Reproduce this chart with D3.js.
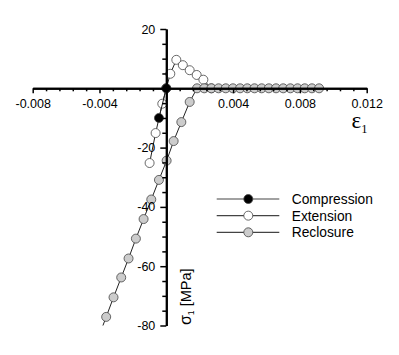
<!DOCTYPE html>
<html lang="en">
<head>
  <meta charset="UTF-8">
  <title>Stress strain loop</title>
  <script src="https://d3js.org/d3.v7.min.js"></script>
  <style>
    body { margin: 0; background: #fff; }
    text { font-family: "Liberation Sans", Arial, sans-serif; fill: #000; }
    .tick text { font-size: 12.5px; }
  </style>
</head>
<body>
  <div id="chart"></div>

  <script>
    // series values (strain, stress in MPa)
    const compressionStrain = [0, -0.00044];
    const compressionStress = [0, -10.0];

    const extensionStrain = [-0.00100, -0.00064, -0.00024, 0, 0.00024, 0.00060, 0.00099, 0.00140, 0.00182, 0.00222, 0.00270];
    const extensionStress = [-25.2, -15.1, -5.2, 0, 4.9, 9.6, 7.8, 6.1, 4.5, 2.9, 0];

    const reclosureStrain = [-0.00404, -0.00360, -0.00316, -0.00270, -0.00226, -0.00182, -0.00136, -0.00090, -0.00044, 0.00002,
      0.00044, 0.00090, 0.00140, 0.00184, 0.00227, 0.00270, 0.00313, 0.00356, 0.00399, 0.00442, 0.00485, 0.00528,
      0.00571, 0.00614, 0.00657, 0.00700, 0.00743, 0.00786, 0.00829, 0.00872, 0.00915];
    const reclosureStress = [-83.7, -77.1, -70.5, -63.8, -57.4, -50.7, -44.1, -37.5, -30.9, -24.4,
      -17.8, -11.4, -4.6, 0, 0, 0, 0, 0, 0, 0, 0, 0,
      0, 0, 0, 0, 0, 0, 0, 0, 0];

    const xTicks = [-0.008, -0.004, 0, 0.004, 0.008, 0.012];
    const yTicks = [20, 0, -20, -40, -60, -80];

    const seriesNames = ["Compression", "Extension", "Reclosure"];
    const seriesFill = ["#000000", "#ffffff", "#cccccc"];

    const margin = { top: 29, left: 32.7 };
    const width = 334;
    const height = 296.5;

    const svg = d3.select("#chart").append("svg")
      .attr("width", 399)
      .attr("height", 355);

    const x = d3.scaleLinear().domain([-0.008, 0.012]).range([margin.left, margin.left + width]);
    const y = d3.scaleLinear().domain([-80, 20]).range([margin.top + height, margin.top]);

    svg.append("clipPath").attr("id", "plot-clip")
      .append("rect")
      .attr("x", margin.left).attr("y", margin.top)
      .attr("width", width).attr("height", height);

    const zip = (xs, ys) => xs.map((v, i) => [v, ys[i]]);
    const series = [
      zip(compressionStrain, compressionStress),
      zip(extensionStrain, extensionStress),
      zip(reclosureStrain, reclosureStress)
    ];

    const line = d3.line().x(d => x(d[0])).y(d => y(d[1]));
    const plot = svg.append("g").attr("clip-path", "url(#plot-clip)");

    // draw order: extension, reclosure, compression on top
    [1, 2, 0].forEach(k => {
      const g = plot.append("g");
      g.append("path")
        .datum(series[k])
        .attr("d", line)
        .attr("fill", "none")
        .attr("stroke", "#222")
        .attr("stroke-width", 1);
      g.selectAll("circle")
        .data(series[k])
        .enter().append("circle")
        .attr("cx", d => x(d[0]))
        .attr("cy", d => y(d[1]))
        .attr("r", 4.5)
        .attr("fill", seriesFill[k])
        .attr("stroke", "#444")
        .attr("stroke-width", 0.8);
    });

    // x axis through zero stress
    const xAxisG = svg.append("g").attr("transform", `translate(0,${y(0)})`);
    const xMinor = d3.range(-0.008, 0.0121, 0.0008).filter(v => !xTicks.some(t => Math.abs(t - v) < 1e-6));
    xAxisG.call(d3.axisBottom(x).tickValues(xMinor).tickSize(3).tickSizeOuter(0).tickFormat(""));
    xAxisG.append("g").call(d3.axisBottom(x)
      .tickValues(xTicks)
      .tickSize(5)
      .tickSizeOuter(0)
      .tickPadding(5.5)
      .tickFormat(d => d === 0 ? "" : d.toFixed(3)));

    // y axis through zero strain
    const yAxisG = svg.append("g").attr("transform", `translate(${x(0)},0)`);
    const yMinor = d3.range(-80, 21, 5).filter(v => v % 20 !== 0);
    yAxisG.call(d3.axisLeft(y).tickValues(yMinor).tickSize(4).tickSizeOuter(0).tickFormat(""));
    yAxisG.append("g").call(d3.axisLeft(y)
      .tickValues(yTicks)
      .tickSize(6)
      .tickSizeOuter(0)
      .tickPadding(5)
      .tickFormat(d => d === 0 ? "" : d));

    svg.selectAll(".domain").attr("stroke", "#000").attr("stroke-width", 2);
    svg.selectAll(".tick line").attr("stroke", "#000").attr("stroke-width", 1.5);
    svg.selectAll(".tick text").attr("fill", "#000");

    // axis titles
    const xTitle = svg.append("text")
      .attr("x", 351.5)
      .attr("y", 128.3)
      .style("font-family", "'Liberation Serif', 'Times New Roman', serif")
      .style("font-size", "23px");
    xTitle.append("tspan").text("ε");
    xTitle.append("tspan").attr("dy", 5).style("font-size", "12.5px").text("1");

    const yTitle = svg.append("text")
      .attr("transform", `translate(191,325) rotate(-90)`)
      .style("font-size", "14.5px");
    yTitle.append("tspan").style("font-size", "16px").text("σ");
    yTitle.append("tspan").attr("dy", 3).style("font-size", "8.5px").text("1");
    yTitle.append("tspan").attr("dy", -3).text(" [MPa]");

    // legend
    const legend = svg.append("g")
      .selectAll("g")
      .data(seriesNames)
      .enter().append("g")
      .attr("transform", (d, i) => `translate(0,${199 + i * 16.65})`);

    legend.append("line")
      .attr("x1", 216.7).attr("x2", 279.3)
      .attr("stroke", "#444")
      .attr("stroke-width", 1.2);

    legend.append("circle")
      .attr("cx", 248.3)
      .attr("r", 4.5)
      .attr("fill", (d, i) => seriesFill[i])
      .attr("stroke", "#444")
      .attr("stroke-width", 0.8);

    legend.append("text")
      .attr("x", 291.7)
      .attr("dy", "0.36em")
      .style("font-size", "13.8px")
      .text(d => d);
  </script>
</body>
</html>
